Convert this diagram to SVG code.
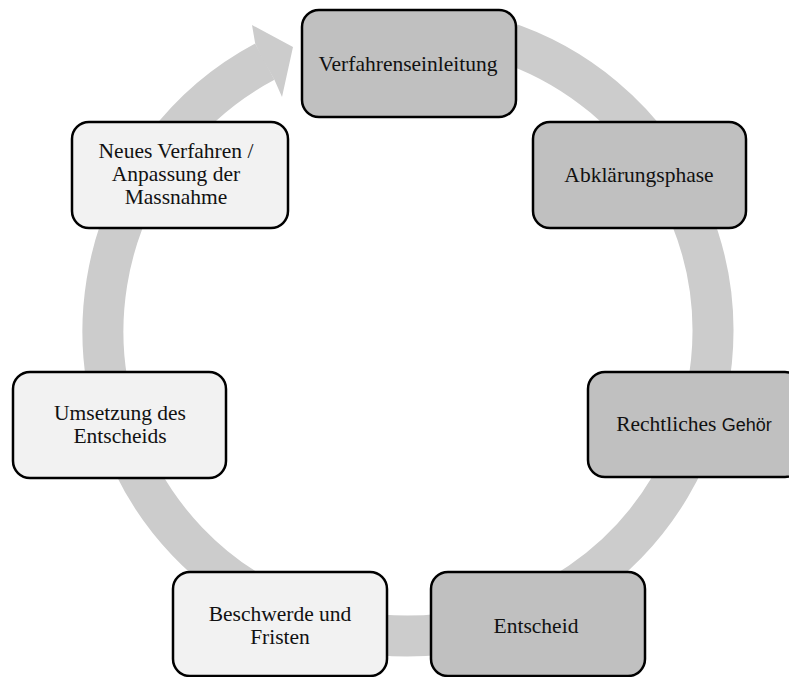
<svg xmlns="http://www.w3.org/2000/svg" width="789" height="677" viewBox="0 0 789 677">
<style>
.ring{fill:none;stroke:#cccccc;stroke-width:41;stroke-linecap:butt}
.head{fill:#cccccc}
.dark{fill:#c0c0c0;stroke:#000;stroke-width:2.5}
.light{fill:#f2f2f2;stroke:#000;stroke-width:2.5}
text{font-family:"Liberation Serif","Times New Roman",serif;font-size:21.5px;fill:#111;text-anchor:middle}
.sans{font-family:"Liberation Sans",Arial,sans-serif;font-size:18px}
</style>
<rect width="789" height="677" fill="#fff"/>
<g id="connectors">
<path class="ring" d="M 486.9 36.4 A 305 305 0 1 1 264.8 61.7"/>
<polygon class="head" points="255.2,43.6 252,25 293,47 282,97 274.4,79.8 262,58"/>
</g>
<g id="n1">
<rect class="dark" x="302" y="10" width="214" height="107" rx="17"/>
<text x="408" y="71">Verfahrenseinleitung</text>
</g>
<g id="n2">
<rect class="dark" x="533" y="122" width="213" height="106" rx="17"/>
<text x="639" y="182">Abklärungsphase</text>
</g>
<g id="n3">
<rect class="dark" x="588" y="372" width="214" height="105" rx="17"/>
<text x="694" y="431">Rechtliches <tspan class="sans">Gehör</tspan></text>
</g>
<g id="n4">
<rect class="dark" x="431" y="572" width="214" height="104" rx="17"/>
<text x="536" y="633">Entscheid</text>
</g>
<g id="n5">
<rect class="light" x="173" y="572" width="214" height="104" rx="17"/>
<text x="280" y="621">Beschwerde und</text>
<text x="280" y="644">Fristen</text>
</g>
<g id="n6">
<rect class="light" x="13" y="372" width="213" height="106" rx="17"/>
<text x="120" y="420">Umsetzung des</text>
<text x="120" y="443">Entscheids</text>
</g>
<g id="n7">
<rect class="light" x="72" y="122" width="216" height="106" rx="17"/>
<text x="176" y="158">Neues Verfahren /</text>
<text x="176" y="181">Anpassung der</text>
<text x="176" y="204">Massnahme</text>
</g>
</svg>
